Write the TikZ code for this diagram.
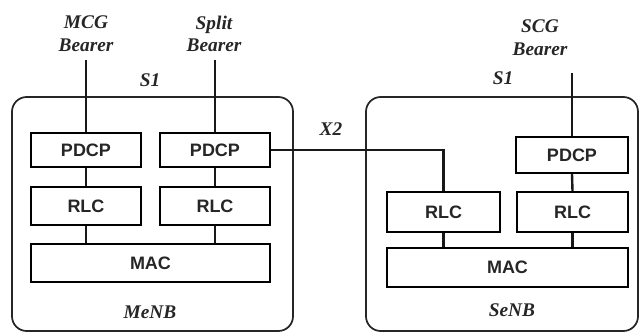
\documentclass[tikz,border=0pt]{standalone}
\usepackage{fontspec}
\setmainfont{Liberation Serif}
\newfontfamily\boxfont{Liberation Sans}
\begin{document}
\begin{tikzpicture}[x=0.75pt,y=-0.75pt,
  layer/.style={draw=black, fill=white, line width=1.8pt, inner sep=0pt,
    font=\boxfont\bfseries\fontsize{13.5}{15}\selectfont, text=black!85},
  enb/.style={draw=black!85, line width=1.3pt, rounded corners=11pt, inner sep=0pt,
    minimum height=175.5pt},
  conn/.style={line width=1.8pt, black!90},
  lbl/.style={font=\bfseries\itshape\fontsize{14.5}{17}\selectfont, align=center, text=black!85, inner sep=0pt}]
\useasboundingbox (0,0) rectangle (640,336);
% eNB boxes
\node[enb, minimum width=210.75pt] (menb) at (152.5,214) {};
\node[enb, minimum width=204pt] (senb) at (502,214) {};
% layer boxes
\node[layer, minimum width=82.5pt, minimum height=25.5pt] (pdcpA) at (86,150) {PDCP};
\node[layer, minimum width=82.5pt, minimum height=25.5pt] (pdcpB) at (215,150) {PDCP};
\node[layer, minimum width=82.5pt, minimum height=28.5pt] (rlcA) at (86,206) {RLC};
\node[layer, minimum width=82.5pt, minimum height=28.5pt] (rlcB) at (215,206) {RLC};
\node[layer, minimum width=179.25pt, minimum height=28.5pt] (macL) at (150.5,263) {MAC};
\node[layer, minimum width=84pt, minimum height=27pt] (pdcpC) at (572,155) {PDCP};
\node[layer, minimum width=84.75pt, minimum height=30pt] (rlcC) at (443.5,212) {RLC};
\node[layer, minimum width=83.25pt, minimum height=30pt] (rlcD) at (572.5,212) {RLC};
\node[layer, minimum width=180.75pt, minimum height=29.25pt] (macR) at (507.5,267.5) {MAC};
% labels
\node[lbl] (mcg) at (86,34) {MCG\\Bearer};
\node[lbl] (split) at (214,34) {Split\\Bearer};
\node[lbl] (scg) at (540,38) {SCG\\Bearer};
\node[lbl] (s1a) at (150,80) {S1};
\node[lbl] (s1b) at (503,78) {S1};
\node[lbl] (x2) at (331,129) {X2};
\node[lbl] (menbl) at (150,312) {MeNB};
\node[lbl] (senbl) at (512,310) {SeNB};
\coordinate (mcgend) at (86,60);
\coordinate (splitend) at (215,60);
\coordinate (scgend) at (572,73);
% connectors
\draw[conn] (mcgend) -- (pdcpA.north);
\draw[conn] (splitend) -- (pdcpB.north);
\draw[conn] (scgend) -- (pdcpC.north);
\draw[conn] (pdcpA.south) -- (rlcA.north);
\draw[conn] (pdcpB.south) -- (rlcB.north);
\draw[conn] (pdcpC.south) -- (rlcD.north);
\draw[conn] (rlcA.south) -- (rlcA.south |- macL.north);
\draw[conn] (rlcB.south) -- (rlcB.south |- macL.north);
\draw[conn] (rlcC.south) -- (rlcC.south |- macR.north);
\draw[conn] (rlcD.south) -- (rlcD.south |- macR.north);
\draw[conn] (pdcpB.east) -| (rlcC.north);
\end{tikzpicture}
\end{document}
